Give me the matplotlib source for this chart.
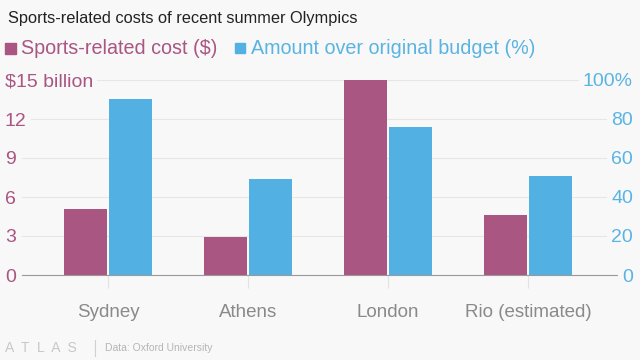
import matplotlib.pyplot as plt
import numpy as np

# data
games = ['Sydney', 'Athens', 'London', 'Rio (estimated)']
cost_bn = [5.1, 2.9, 15.0, 4.6]
over_pct = [90, 49, 76, 51]
cost_ticks = [0, 3, 6, 9, 12, 15]
cost_ticklabels = ['0', '3', '6', '9', '12', '$15 billion']
pct_ticks = [0, 20, 40, 60, 80, 100]
pct_ticklabels = ['0', '20', '40', '60', '80', '100%']

PINK = '#a95682'
BLUE = '#52b1e2'
BG = '#f8f8f8'
W, H = 640, 360

plt.rcParams['font.family'] = ['Liberation Sans', 'DejaVu Sans']

fig = plt.figure(figsize=(6.4, 3.6), dpi=100, facecolor=BG)
ax = fig.add_axes([22 / W, 1 - 275 / H, (617 - 22) / W, 195 / H])
ax.set_facecolor(BG)
ax2 = ax.twinx()

x = np.arange(len(games))
bw = 43 / 140
off = 22.6 / 140
ax.bar(x - off, cost_bn, width=bw, color=PINK, zorder=3)
ax2.bar(x + off, over_pct, width=bw, color=BLUE, zorder=3)

ax.set_xlim((22 - 108) / 140, (617 - 108) / 140)
ax.set_ylim(0, 15)
ax2.set_ylim(0, 100)

for s in ['top', 'left', 'right']:
    ax.spines[s].set_visible(False)
    ax2.spines[s].set_visible(False)
ax.spines['bottom'].set_color('#9a9a9a')
ax2.spines['bottom'].set_visible(False)

ax.set_yticks(cost_ticks)
ax.set_yticklabels(cost_ticklabels)
ax.tick_params(axis='y', length=0, pad=12.3, labelsize=14, labelcolor=PINK)
for lb in ax.get_yticklabels():
    lb.set_horizontalalignment('left')
    lb.set_bbox(dict(facecolor=BG, edgecolor='none', pad=3))
ax.grid(axis='y', color='#e6e6e6', linewidth=0.8, zorder=0)

ax2.set_yticks(pct_ticks)
ax2.set_yticklabels(pct_ticklabels)
ax2.tick_params(axis='y', length=0, pad=11.5, labelsize=14, labelcolor='#5ab4e2')
for lb in ax2.get_yticklabels():
    lb.set_horizontalalignment('right')
    lb.set_bbox(dict(facecolor=BG, edgecolor='none', pad=3))

ax.set_xticks(x)
ax.set_xticklabels(games)
ax.tick_params(axis='x', length=9, color='#e2e2e2', labelsize=13.5,
               labelcolor='#8a8a8a', pad=12)

# title and legend
fig.text(8 / W, 1 - 18 / H, 'Sports-related costs of recent summer Olympics',
         fontsize=11.8, color='#222222', va='center')
fig.patches.append(plt.Rectangle((5 / W, 1 - 54 / H), 11 / W, 11 / H,
                                 transform=fig.transFigure, color=PINK))
fig.text(21 / W, 1 - 48 / H, 'Sports-related cost ($)', fontsize=14.2,
         color=PINK, va='center')
fig.patches.append(plt.Rectangle((235 / W, 1 - 53 / H), 10 / W, 10 / H,
                                 transform=fig.transFigure, color=BLUE))
fig.text(251 / W, 1 - 48 / H, 'Amount over original budget (%)', fontsize=14.2,
         color='#5ab4e2', va='center')

# footer
fig.text(5 / W, 1 - 348 / H, 'A  T  L  A  S', fontsize=10, color='#c8c8c8',
         va='center')
fig.lines.append(plt.Line2D([95 / W, 95 / W], [1 - 340 / H, 1 - 356 / H],
                            transform=fig.transFigure, color='#d0d0d0', lw=0.8))
fig.text(105 / W, 1 - 348 / H, 'Data: Oxford University', fontsize=7.5,
         color='#b5b5b5', va='center')

fig.savefig('out.png', dpi=100, facecolor=BG)
